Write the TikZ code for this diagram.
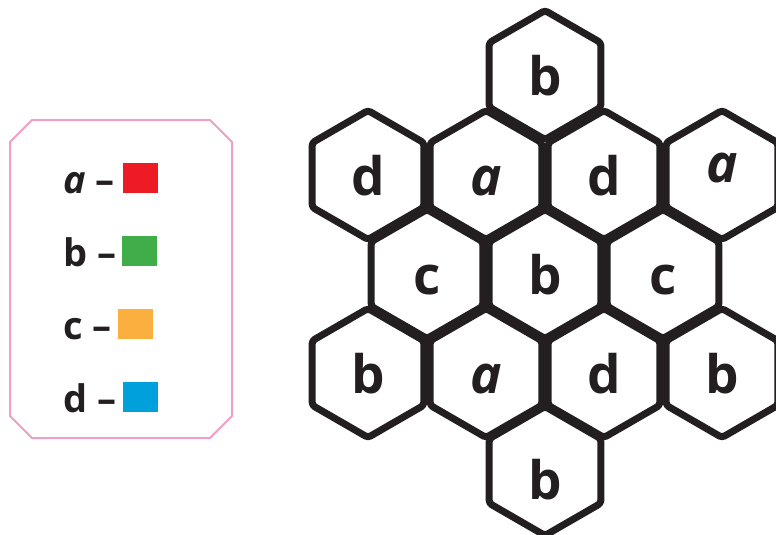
\documentclass[tikz,border=0pt]{standalone}
\usepackage{fontspec}
\setmainfont{Open Sans}
\usetikzlibrary{shapes.geometric}

\definecolor{hex_black}{RGB}{35,31,32}
\definecolor{key_pink}{RGB}{240,158,195}
\definecolor{key_red}{RGB}{237,28,36}
\definecolor{key_green}{RGB}{64,173,73}
\definecolor{key_orange}{RGB}{251,175,63}
\definecolor{key_blue}{RGB}{0,160,220}

\begin{document}
\begin{tikzpicture}[
    x=1pt, y=-1pt,
    hexcell/.style={regular polygon, regular polygon sides=6, shape border rotate=30,
                    draw=hex_black, line width=7pt, minimum size=129pt, inner sep=0pt,
                    rounded corners=3pt, line join=round, text=hex_black,
                    font=\bfseries\fontsize{53}{60}\selectfont,
                    text height=41pt, text depth=0pt},
    keytext/.style={anchor=base west, text=hex_black,
                    font=\bfseries\fontsize{38}{44}\selectfont},
    swatch/.style={anchor=south west, minimum width=35pt, minimum height=30pt,
                   inner sep=0pt}
]
    \useasboundingbox (0,0) rectangle (776,535);

    % Key box
    \draw[key_pink, line width=2pt] (10,142) -- (32,120) -- (210,120) -- (232,142)
        -- (232,416) -- (210,438) -- (32,438) -- (10,416) -- cycle;

    \node[keytext] (ka) at (60,193) {\itshape a\upshape\ –};
    \node[swatch, fill=key_red] (swa) at (123,193) {};
    \node[keytext] (kb) at (60,266) {b –};
    \node[swatch, fill=key_green] (swb) at (122,266) {};
    \node[keytext] (kc) at (60,339) {c –};
    \node[swatch, fill=key_orange] (swc) at (118,339) {};
    \node[keytext] (kd) at (60,412) {d –};
    \node[swatch, fill=key_blue] (swd) at (123,412) {};

    % Row 1
    \node[hexcell] (h11) at (545,75) {b};
    % Row 2
    \node[hexcell] (h21) at (368,175) {d};
    \node[hexcell] (h22) at (486,175) {\itshape a};
    \node[hexcell] (h23) at (604,175) {d};
    \node[hexcell, text depth=27pt] (h24) at (722,175) {\itshape a};
    % Row 3
    \node[hexcell] (h31) at (427,274) {c};
    \node[hexcell] (h32) at (545,274) {b};
    \node[hexcell] (h33) at (663,274) {c};
    % Row 4
    \node[hexcell] (h41) at (368,373) {b};
    \node[hexcell] (h42) at (486,373) {\itshape a};
    \node[hexcell] (h43) at (604,373) {d};
    \node[hexcell] (h44) at (722,373) {b};
    % Row 5
    \node[hexcell, text height=56pt] (h51) at (545,471) {b};
\end{tikzpicture}
\end{document}
